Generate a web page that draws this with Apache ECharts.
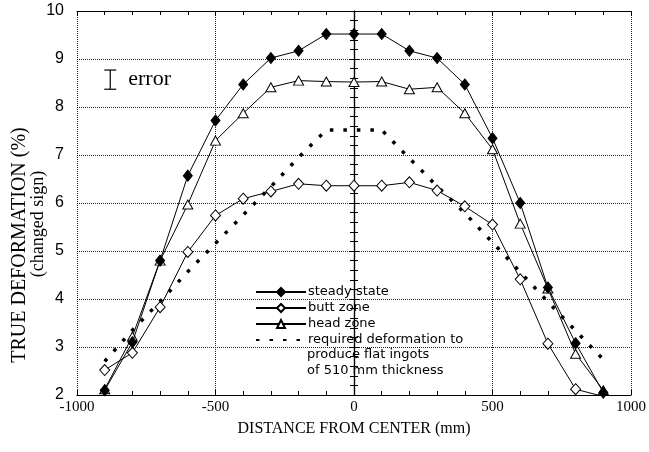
<!DOCTYPE html>
<html>
<head>
<meta charset="utf-8">
<script src="https://cdn.jsdelivr.net/npm/echarts@6/dist/echarts.min.js"></script>
<style>
  html, body { margin: 0; padding: 0; background: #fff; }
  #chart { width: 649px; height: 452px; }
</style>
</head>
<body>
<div id="chart"></div>
<script>
// Distance from the ingot center (mm)
const positions = [-900, -800, -700, -600, -500, -400, -300, -200, -100, 0, 100, 200, 300, 400, 500, 600, 700, 800, 900];

// True deformation (%), sign changed
const steadyState = [2.1, 3.1, 4.8, 6.57, 7.72, 8.47, 9.02, 9.17, 9.52, 9.52, 9.52, 9.17, 9.02, 8.47, 7.35, 6.0, 4.24, 3.08, 2.05];
const buttZone    = [2.52, 2.88, 3.83, 4.98, 5.74, 6.09, 6.24, 6.40, 6.36, 6.36, 6.36, 6.43, 6.26, 5.93, 5.55, 4.41, 3.07, 2.12, 1.97];
const headZone    = [2.12, 3.22, 4.8, 5.97, 7.3, 7.87, 8.41, 8.55, 8.53, 8.52, 8.53, 8.37, 8.41, 7.87, 7.12, 5.57, 4.22, 2.86, 2.1];
const required    = [2.7, 3.35, 3.95, 4.57, 5.16, 5.75, 6.34, 6.95, 7.52, 7.52, 7.52, 6.93, 6.35, 5.79, 5.18, 4.56, 3.94, 3.34, 2.74];

// Measurement error indicator: [x, center, half-range]
const errorBar = [[-880, 8.57, 0.2]];

const xTicks = { min: -1000, max: 1000, interval: 500 };
const yTicks = { min: 2, max: 10, interval: 1 };

const seriesNames = ['steady state', 'butt zone', 'head zone', 'required deformation to'];
const requiredNoteLines = ['produce flat ingots', 'of 510 mm thickness'];

const pairs = vals => positions.map((x, i) => [x, vals[i]]);

const serif = '"Liberation Serif", "Times New Roman", serif';
const sans = '"Liberation Sans", Arial, sans-serif';
const legendFont = '"DejaVu Sans", Verdana, sans-serif';

const frameLine = { show: true, lineStyle: { color: '#000', width: 1.2 } };
const innerTick = { show: true, inside: true, length: 5, lineStyle: { color: '#000', width: 1 } };
const innerMinor = { show: true, splitNumber: 5, length: 4, lineStyle: { color: '#000', width: 1 } };
const dottedGrid = { show: true, lineStyle: { color: '#222', width: 1, type: [1, 1] } };

const chart = echarts.init(document.getElementById('chart'), null, { renderer: 'canvas' });

chart.setOption({
  animation: false,
  backgroundColor: '#fff',
  grid: { left: 77, right: 15, top: 11, bottom: 57 },
  legend: {
    data: [
      seriesNames[0], seriesNames[1], seriesNames[2],
      { name: seriesNames[3], itemStyle: { opacity: 0 } }
    ],
    orient: 'vertical',
    left: 250,
    top: 280,
    itemWidth: 50,
    itemHeight: 10,
    itemGap: 2,
    textStyle: { fontFamily: legendFont, fontSize: 13, lineHeight: 14, color: '#000', padding: [0, 0, 0, -3] },
    selectedMode: false
  },
  xAxis: [
    {
      type: 'value', position: 'bottom', ...xTicks,
      axisLine: frameLine, axisTick: innerTick, minorTick: innerMinor,
      splitLine: dottedGrid,
      axisLabel: { fontFamily: serif, fontSize: 15, color: '#000', margin: 5, formatter: v => String(v) },
      name: 'DISTANCE FROM CENTER (mm)', nameLocation: 'middle', nameGap: 26,
      nameTextStyle: { fontFamily: serif, fontSize: 16, color: '#000' }
    },
    {
      type: 'value', position: 'top', ...xTicks,
      axisLine: frameLine, axisTick: innerTick, minorTick: innerMinor,
      splitLine: { show: false }, axisLabel: { show: false }
    }
  ],
  yAxis: [
    {
      type: 'value', position: 'left', ...yTicks,
      axisLine: frameLine, axisTick: innerTick, minorTick: innerMinor,
      splitLine: dottedGrid,
      axisLabel: { fontFamily: sans, fontSize: 16, color: '#000', margin: 13 }
    },
    {
      type: 'value', position: 'right', ...yTicks,
      axisLine: frameLine, axisTick: innerTick, minorTick: innerMinor,
      splitLine: { show: false }, axisLabel: { show: false }
    }
  ],
  graphic: [
    {
      type: 'text', x: 20, y: 245, rotation: Math.PI / 2,
      style: { text: 'TRUE DEFORMATION (%)', font: '20px ' + serif, fill: '#000', textAlign: 'center', textVerticalAlign: 'middle' }
    },
    {
      type: 'text', x: 38, y: 224, rotation: Math.PI / 2,
      style: { text: '(changed sign)', font: '18px ' + serif, fill: '#000', textAlign: 'center', textVerticalAlign: 'middle' }
    },
    ...requiredNoteLines.map((t, i) => ({
      type: 'text', x: 307, y: 355 + i * 16,
      style: { text: t, font: '13px ' + legendFont, fill: '#000', textVerticalAlign: 'middle' }
    }))
  ],
  series: [
    {
      name: seriesNames[3], type: 'line', data: pairs(required),
      showSymbol: false, symbol: 'none', clip: true, z: 2,
      lineStyle: { color: '#000', width: 3.5, type: [3.5, 10], cap: 'butt' },
      itemStyle: { color: '#000' }
    },
    {
      name: seriesNames[2], type: 'line', data: pairs(headZone),
      symbol: 'triangle', symbolSize: [10, 9], clip: true, z: 3,
      lineStyle: { color: '#000', width: 1 },
      itemStyle: { color: '#fff', borderColor: '#000', borderWidth: 1 }
    },
    {
      name: seriesNames[1], type: 'line', data: pairs(buttZone),
      symbol: 'diamond', symbolSize: [10, 11], clip: true, z: 3,
      lineStyle: { color: '#000', width: 1 },
      itemStyle: { color: '#fff', borderColor: '#000', borderWidth: 1 }
    },
    {
      name: seriesNames[0], type: 'line', data: pairs(steadyState),
      symbol: 'diamond', symbolSize: [9, 11], clip: true, z: 4,
      lineStyle: { color: '#000', width: 1 },
      itemStyle: { color: '#000', borderColor: '#000', borderWidth: 1 }
    },
    {
      type: 'custom', data: errorBar, z: 5, silent: true,
      renderItem: (params, api) => {
        const x = api.value(0), c = api.value(1), e = api.value(2);
        const top = api.coord([x, c + e]);
        const bot = api.coord([x, c - e]);
        const cap = 6;
        const ls = { stroke: '#000', lineWidth: 1.2 };
        return {
          type: 'group',
          children: [
            { type: 'line', shape: { x1: top[0], y1: top[1], x2: bot[0], y2: bot[1] }, style: ls },
            { type: 'line', shape: { x1: top[0] - cap, y1: top[1], x2: top[0] + cap, y2: top[1] }, style: ls },
            { type: 'line', shape: { x1: bot[0] - cap, y1: bot[1], x2: bot[0] + cap, y2: bot[1] }, style: ls },
            {
              type: 'text', x: top[0] + 18, y: (top[1] + bot[1]) / 2,
              style: { text: 'error', font: '22px ' + serif, fill: '#000', textVerticalAlign: 'middle' }
            }
          ]
        };
      }
    }
  ]
});
</script>
</body>
</html>
